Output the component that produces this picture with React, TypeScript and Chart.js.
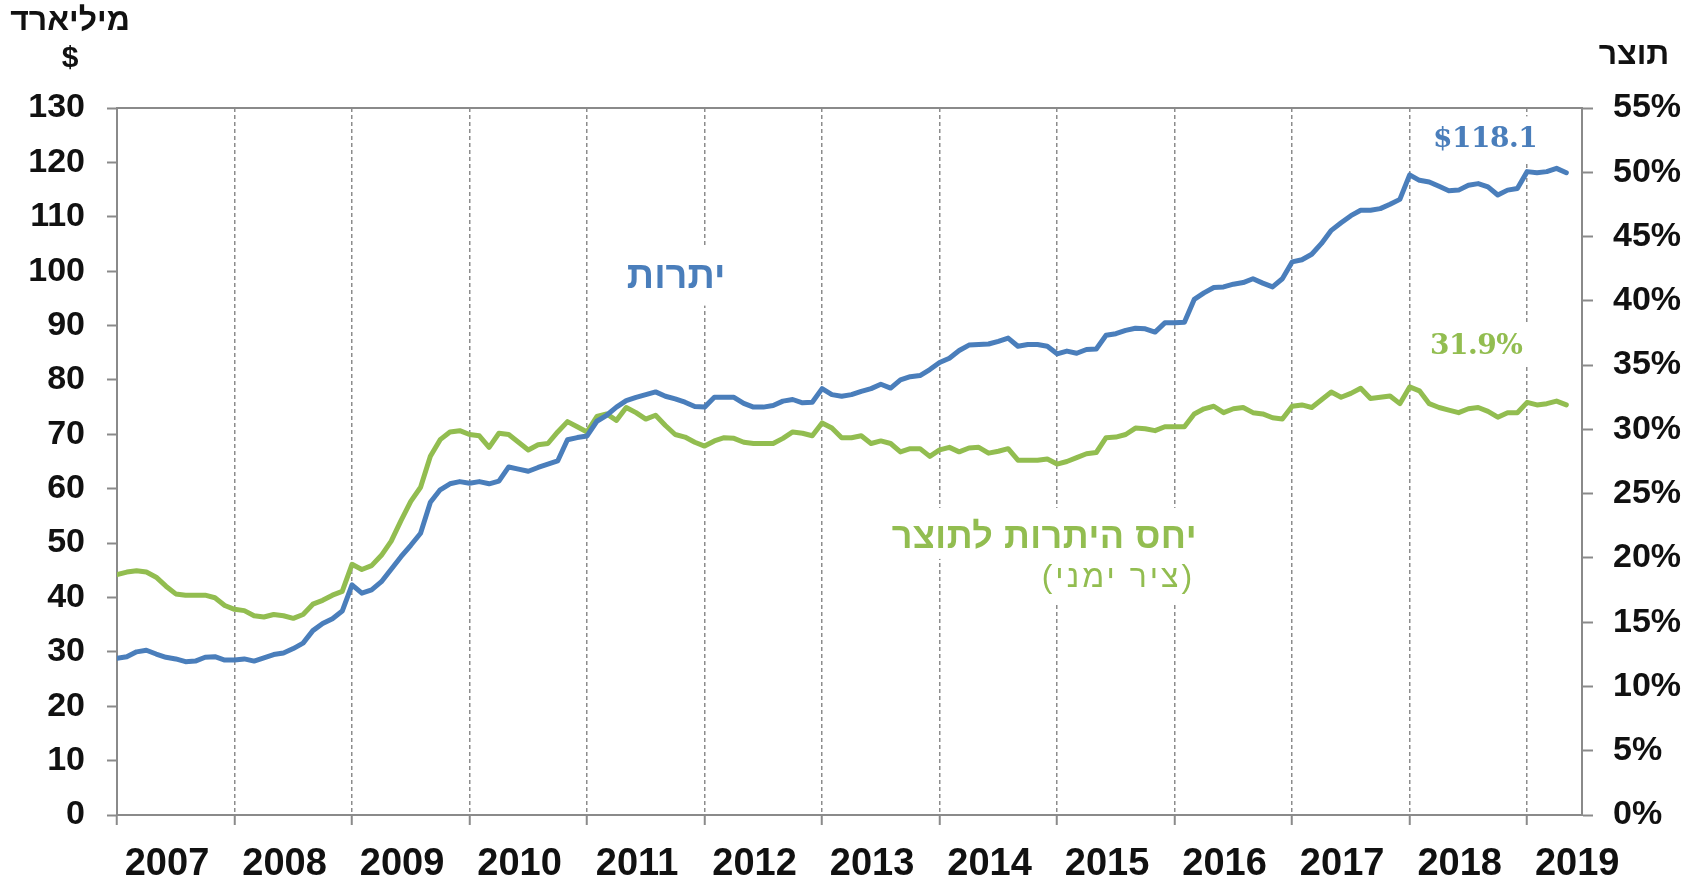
import React, { useEffect, useRef } from 'react';
import { Chart, registerables } from 'chart.js';

Chart.register(...registerables);

// ---- data (monthly, Jan 2007 .. May 2019) ----
const startYear = 2007;
const reserves: number[] = [
  // 2007
  28.8, 29.1, 30.0, 30.3, 29.6, 29.0, 28.7, 28.2, 28.3, 29.0, 29.1, 28.5,
  // 2008
  28.5, 28.7, 28.3, 28.9, 29.5, 29.8, 30.6, 31.6, 33.9, 35.2, 36.1, 37.5,
  // 2009
  42.3, 40.8, 41.4, 42.9, 45.2, 47.5, 49.6, 51.8, 57.5, 59.8, 60.9, 61.3,
  // 2010
  61.0, 61.3, 60.9, 61.4, 64.0, 63.6, 63.2, 63.9, 64.5, 65.1, 69.0, 69.4,
  // 2011
  69.7, 72.4, 73.5, 75.0, 76.2, 76.8, 77.3, 77.8, 77.0, 76.5, 75.9, 75.1,
  // 2012
  75.0, 76.8, 76.8, 76.8, 75.7, 75.0, 75.0, 75.3, 76.1, 76.4, 75.8, 75.9,
  // 2013
  78.4, 77.3, 77.0, 77.3, 77.9, 78.4, 79.2, 78.5, 80.0, 80.6, 80.8, 81.9,
  // 2014
  83.2, 84.0, 85.4, 86.4, 86.5, 86.6, 87.1, 87.7, 86.2, 86.5, 86.5, 86.2,
  // 2015
  84.8, 85.3, 84.9, 85.6, 85.7, 88.2, 88.5, 89.1, 89.5, 89.4, 88.8, 90.5,
  // 2016
  90.5, 90.6, 94.8, 96.0, 97.0, 97.1, 97.6, 97.9, 98.6, 97.8, 97.1, 98.6,
  // 2017
  101.7, 102.1, 103.1, 105.1, 107.5, 108.9, 110.2, 111.2, 111.2, 111.5, 112.3, 113.2,
  // 2018
  117.7, 116.7, 116.4, 115.6, 114.8, 114.9, 115.8, 116.1, 115.5, 114.0, 114.9, 115.2,
  // 2019
  118.3, 118.1, 118.3, 118.9, 118.1,
];
const ratio: number[] = [
  // 2007
  18.7, 18.9, 19.0, 18.9, 18.5, 17.8, 17.2, 17.1, 17.1, 17.1, 16.9, 16.3,
  // 2008
  16.0, 15.9, 15.5, 15.4, 15.6, 15.5, 15.3, 15.6, 16.4, 16.7, 17.1, 17.4,
  // 2009
  19.5, 19.1, 19.4, 20.2, 21.3, 22.9, 24.4, 25.5, 27.9, 29.2, 29.8, 29.9,
  // 2010
  29.6, 29.5, 28.6, 29.7, 29.6, 29.0, 28.4, 28.8, 28.9, 29.8, 30.6, 30.2,
  // 2011
  29.8, 31.0, 31.2, 30.7, 31.7, 31.3, 30.8, 31.1, 30.3, 29.6, 29.4, 29.0,
  // 2012
  28.7, 29.1, 29.35, 29.3, 29.0, 28.9, 28.9, 28.9, 29.3, 29.8, 29.7, 29.5,
  // 2013
  30.5, 30.1, 29.35, 29.35, 29.5, 28.9, 29.1, 28.9, 28.25, 28.5, 28.5, 27.9,
  // 2014
  28.4, 28.6, 28.25, 28.55, 28.6, 28.15, 28.3, 28.5, 27.6, 27.6, 27.6, 27.7,
  // 2015
  27.3, 27.5, 27.8, 28.1, 28.2, 29.35, 29.4, 29.6, 30.1, 30.05, 29.9, 30.2,
  // 2016
  30.2, 30.2, 31.2, 31.6, 31.8, 31.3, 31.6, 31.7, 31.3, 31.2, 30.9, 30.8,
  // 2017
  31.8, 31.9, 31.7, 32.3, 32.9, 32.5, 32.8, 33.2, 32.4, 32.5, 32.6, 32.0,
  // 2018
  33.3, 33.0, 32.0, 31.7, 31.5, 31.3, 31.6, 31.7, 31.4, 30.95, 31.3, 31.3,
  // 2019
  32.1, 31.9, 32.0, 32.2, 31.9,
];
const yearLabels: string[] = [
  '2007', '2008', '2009', '2010', '2011', '2012', '2013',
  '2014', '2015', '2016', '2017', '2018', '2019',
];
const yearStarts: number[] = yearLabels.map((_, i) => i * 12);

const BLUE = '#4A7EBB';
const GREEN = '#92BD50';
const AXIS = '#8a8a8a';
const GRID = '#8c8c8c';
const SANS = '"Liberation Sans", Arial, sans-serif';
const SERIF = '"DejaVu Serif", serif';

type Note = {
  text: string; xv: number; yv: number; axis: 'y' | 'y1';
  font: string; color: string; align: CanvasTextAlign; padX: number; padY: number; rtl: boolean; spacing: number;
};

const notes: Note[] = [
  { text: 'יתרות', xv: 57.1, yv: 98.9, axis: 'y', font: `bold 38px ${SANS}`, color: BLUE, align: 'center', padX: 12, padY: 18, rtl: true, spacing: 0 },
  { text: '$118.1', xv: 139.7, yv: 124.1, axis: 'y', font: `bold 28px ${SERIF}`, color: BLUE, align: 'center', padX: 6, padY: 10, rtl: false, spacing: -0.5 },
  { text: '31.9%', xv: 138.8, yv: 36.4, axis: 'y1', font: `bold 28px ${SERIF}`, color: GREEN, align: 'center', padX: 6, padY: 10, rtl: false, spacing: -0.5 },
  { text: 'יחס היתרות לתוצר', xv: 110.3, yv: 21.55, axis: 'y1', font: `bold 36px ${SANS}`, color: GREEN, align: 'right', padX: 6, padY: 10, rtl: true, spacing: 0.5 },
  { text: '(ציר ימני)', xv: 110.1, yv: 18.4, axis: 'y1', font: `32px ${SANS}`, color: GREEN, align: 'right', padX: 6, padY: 8, rtl: true, spacing: 3 },
];

const titles = [
  { text: 'מיליארד', x: 70, y: 21, font: `bold 32px ${SANS}` },
  { text: '$', x: 70, y: 59, font: `bold 30px ${SANS}` },
  { text: 'תוצר', x: 1634, y: 55, font: `bold 32px ${SANS}` },
];

const annotPlugin = {
  id: 'annot',
  beforeDatasetsDraw(chart: any) {
    const { ctx, chartArea, scales } = chart;
    ctx.save();
    // top frame line
    ctx.strokeStyle = AXIS;
    ctx.lineWidth = 2;
    ctx.beginPath();
    ctx.moveTo(chartArea.left, chartArea.top);
    ctx.lineTo(chartArea.right, chartArea.top);
    ctx.stroke();

    const setup = (n: Note) => {
      ctx.font = n.font;
      ctx.direction = n.rtl ? 'rtl' : 'ltr';
      ctx.textAlign = n.align;
      ctx.textBaseline = 'middle';
      (ctx as any).letterSpacing = `${n.spacing}px`;
    };

    for (const n of notes) {
      const px = scales.x.getPixelForValue(n.xv);
      const py = scales[n.axis].getPixelForValue(n.yv);
      setup(n);
      const m = ctx.measureText(n.text);
      const w = m.width;
      const asc = m.actualBoundingBoxAscent;
      const desc = m.actualBoundingBoxDescent;
      let x0 = px - w / 2;
      if (n.align === 'right') x0 = px - w;
      if (n.align === 'left') x0 = px;
      ctx.fillStyle = '#ffffff';
      ctx.fillRect(x0 - n.padX, py - asc - n.padY, w + 2 * n.padX, asc + desc + 2 * n.padY);
    }
    for (const n of notes) {
      const px = scales.x.getPixelForValue(n.xv);
      const py = scales[n.axis].getPixelForValue(n.yv);
      setup(n);
      ctx.fillStyle = n.color;
      ctx.fillText(n.text, px, py);
    }
    (ctx as any).letterSpacing = '0px';
    for (const t of titles) {
      ctx.font = t.font;
      ctx.direction = 'rtl';
      ctx.textAlign = 'center';
      ctx.textBaseline = 'middle';
      ctx.fillStyle = '#111111';
      ctx.fillText(t.text, t.x, t.y);
    }
    ctx.restore();
  },
};

export default function App() {
  const ref = useRef<HTMLCanvasElement | null>(null);

  useEffect(() => {
    if (!ref.current) return;
    const tickFont = { family: SANS, size: 34, weight: 'bold' as const };
    const chart = new Chart(ref.current, {
      type: 'line',
      data: {
        datasets: [
          {
            label: 'יתרות',
            data: reserves.map((v, i) => ({ x: i, y: v })),
            borderColor: BLUE,
            borderWidth: 5,
            pointRadius: 0,
            tension: 0,
            borderJoinStyle: 'round',
            borderCapStyle: 'round',
            yAxisID: 'y',
          },
          {
            label: 'יחס היתרות לתוצר',
            data: ratio.map((v, i) => ({ x: i, y: v })),
            borderColor: GREEN,
            borderWidth: 5,
            pointRadius: 0,
            tension: 0,
            borderJoinStyle: 'round',
            borderCapStyle: 'round',
            yAxisID: 'y1',
          },
        ],
      },
      options: {
        animation: false,
        responsive: false,
        events: [],
        layout: { padding: { top: 108, left: 0, right: 0, bottom: 0 } },
        plugins: { legend: { display: false }, tooltip: { enabled: false }, title: { display: false } },
        scales: {
          x: {
            type: 'linear',
            min: 0,
            max: 149.6,
            afterBuildTicks: (s: any) => {
              s.ticks = yearStarts.map((v) => ({ value: v }));
            },
            afterFit: (s: any) => {
              s.height = 62;
            },
            ticks: {
              autoSkip: false,
              maxRotation: 0,
              labelOffset: 50,
              padding: 17,
              color: '#111111',
              font: { family: SANS, size: 38, weight: 'bold' },
              callback: (v: any) => {
                const k = yearStarts.indexOf(Number(v));
                return k >= 0 ? String(startYear + k) : '';
              },
            },
            grid: {
              color: (c: any) => (c.tick && c.tick.value === 0 ? 'rgba(0,0,0,0)' : GRID),
              lineWidth: 1.5,
              drawTicks: true,
              tickLength: 10,
              tickColor: AXIS,
              tickWidth: 2,
            },
            border: { display: true, color: AXIS, width: 2, dash: [4, 3] },
          },
          y: {
            position: 'left',
            min: 0,
            max: 130,
            afterFit: (s: any) => {
              s.width = 117;
            },
            ticks: { stepSize: 10, autoSkip: false, padding: 22, color: '#111111', font: tickFont },
            grid: { drawOnChartArea: false, drawTicks: true, tickLength: 10, tickColor: AXIS, tickWidth: 2 },
            border: { display: true, color: AXIS, width: 2 },
          },
          y1: {
            position: 'right',
            min: 0,
            max: 55,
            afterFit: (s: any) => {
              s.width = 116;
            },
            ticks: {
              stepSize: 5,
              autoSkip: false,
              padding: 20,
              color: '#111111',
              font: tickFont,
              callback: (v: any) => `${v}%`,
            },
            grid: { drawOnChartArea: false, drawTicks: true, tickLength: 11, tickColor: AXIS, tickWidth: 2 },
            border: { display: true, color: AXIS, width: 2 },
          },
        },
      },
      plugins: [annotPlugin],
    });
    return () => chart.destroy();
  }, []);

  return (
    <div style={{ position: 'fixed', left: 0, top: 0, width: 1698, height: 877, background: '#ffffff' }}>
      <canvas ref={ref} width={1698} height={877} style={{ width: 1698, height: 877, display: 'block' }} />
    </div>
  );
}
